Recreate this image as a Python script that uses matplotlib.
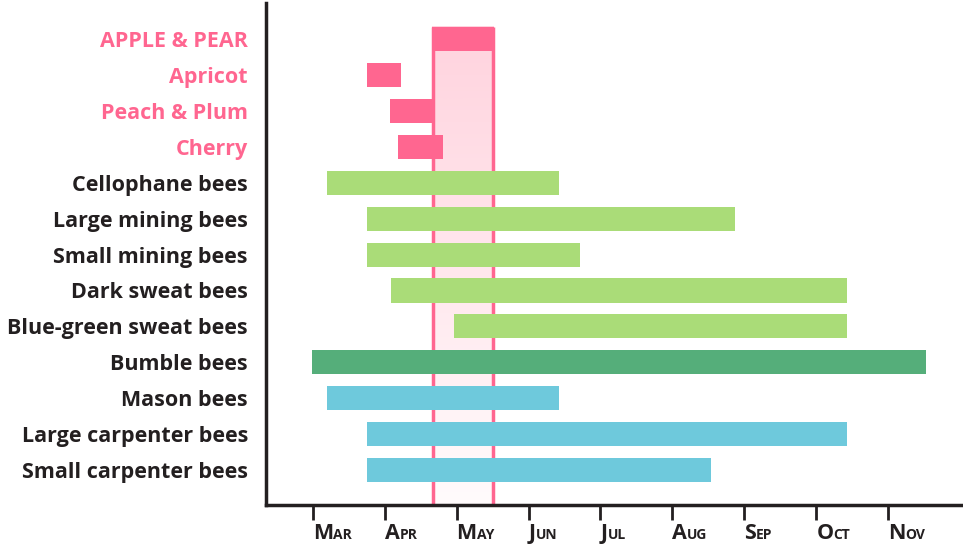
import numpy as np
import matplotlib
matplotlib.use("Agg")
import matplotlib.pyplot as plt

# rows, top to bottom
labels = ["APPLE & PEAR", "Apricot", "Peach & Plum", "Cherry",
          "Cellophane bees", "Large mining bees", "Small mining bees",
          "Dark sweat bees", "Blue-green sweat bees", "Bumble bees",
          "Mason bees", "Large carpenter bees", "Small carpenter bees"]
# start / end in months (3 = 1 March)
starts = [4.66, 3.75, 4.08, 4.19, 3.20, 3.75, 3.75, 4.09, 4.97, 2.99, 3.20, 3.75, 3.75]
ends = [5.52, 4.23, 4.69, 4.81, 6.42, 8.87, 6.72, 10.43, 10.43, 11.53, 6.42, 10.43, 8.53]
groups = ["fruit"] * 4 + ["ground"] * 5 + ["bumble"] + ["wood"] * 3

months = [3, 4, 5, 6, 7, 8, 9, 10, 11]
month_names = ["Mar", "Apr", "May", "Jun", "Jul", "Aug", "Sep", "Oct", "Nov"]

PINK = "#ff6690"
DARK = "#231f20"
colors = {"fruit": PINK, "ground": "#aadc78", "bumble": "#55ae7a", "wood": "#6ec9dc"}

FONT = "Open Sans"

fig = plt.figure(figsize=(9.63, 5.45), dpi=100)
ax = fig.add_axes([266 / 963, 40 / 545, 697 / 963, 502 / 545])

rows = np.arange(len(labels))
h = 0.67
ax.barh(rows, np.array(ends) - np.array(starts), left=starts, height=h,
        color=[colors[g] for g in groups], zorder=3)

# blossom window: apple & pear flowering, shaded down the whole chart
a0, a1 = starts[0], ends[0]
ybot = len(labels) - 0.03
top = 0 - h / 2
grad = np.linspace(0, 1, 256)[:, None]
c_top = np.array([255, 211, 222]) / 255
c_bot = np.array([255, 251, 252]) / 255
img = c_top[None, None, :] * (1 - grad[:, :, None]) + c_bot[None, None, :] * grad[:, :, None]
ax.imshow(img, extent=[a0, a1, ybot, top], aspect="auto", zorder=1,
          interpolation="bilinear")
ax.vlines([a0 + 0.015, a1 - 0.015], top, ybot, color=PINK, lw=2.5, zorder=2)

ax.set_xlim(2.35, 12.04)
ax.set_ylim(ybot, -1.0)

ax.set_yticks(rows)
ax.set_yticklabels(labels, fontsize=15.5, fontweight="bold", family=FONT)
for i, t in enumerate(ax.get_yticklabels()):
    t.set_color(PINK if groups[i] == "fruit" else DARK)
ax.tick_params(axis="y", length=0, pad=13)

ax.set_xticks(months)
ax.set_xticklabels([])
ax.tick_params(axis="x", length=11, width=2, color=DARK)

for s in ["top", "right"]:
    ax.spines[s].set_visible(False)
for s in ["left", "bottom"]:
    ax.spines[s].set_linewidth(2.5)
    ax.spines[s].set_color(DARK)

# small-caps month labels, left aligned on the tick
fig.canvas.draw()
renderer = fig.canvas.get_renderer()
trans = ax.get_xaxis_transform()
y_base = -34 / 502
for m, name in zip(months, month_names):
    t1 = ax.text(m, y_base, name[0], transform=trans, ha="left", va="baseline",
                 fontsize=15.5, fontweight="bold", family=FONT, color=DARK)
    w = t1.get_window_extent(renderer).width
    x_px = ax.transData.transform((m, 0))[0] + w
    x_d = ax.transData.inverted().transform((x_px, 0))[0]
    ax.text(x_d, y_base, name[1:].upper(), transform=trans, ha="left",
            va="baseline", fontsize=10, fontweight="bold", family=FONT, color=DARK)

fig.savefig("out.png", dpi=100)
